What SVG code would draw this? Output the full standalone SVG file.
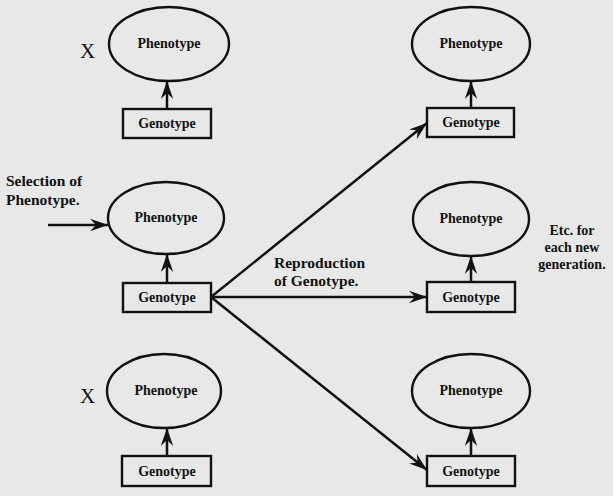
<svg xmlns="http://www.w3.org/2000/svg" width="613" height="496" viewBox="0 0 613 496">
<defs>
<marker id="ah" markerUnits="userSpaceOnUse" markerWidth="20" markerHeight="14" refX="18" refY="7" orient="auto">
<path d="M18,7 L0,0.8 L6,7 L0,13.2 Z" fill="#111"/>
</marker>
<style>
.bg{fill:#e8e8e8}
.ph{fill:none;stroke:#111;stroke-width:2.4}
.ge{fill:none;stroke:#111;stroke-width:2.4}
.t{font-family:"Liberation Serif","Times New Roman",serif;font-weight:bold;fill:#111}
.n{font-size:14px;text-anchor:middle}
.lb{font-size:15.5px}
.x{font-family:"Liberation Serif","Times New Roman",serif;font-size:21px;fill:#111}
.c{fill:none;stroke:#111;stroke-width:2.5;marker-end:url(#ah)}
</style>
</defs>
<rect class="bg" x="0" y="0" width="613" height="496"/>
<g id="connectors">
<line class="c" x1="167" y1="109" x2="167" y2="81"/>
<line class="c" x1="471" y1="108" x2="471" y2="81"/>
<line class="c" x1="167" y1="283" x2="167" y2="254"/>
<line class="c" x1="471" y1="282" x2="471" y2="256"/>
<line class="c" x1="167" y1="456" x2="167" y2="428"/>
<line class="c" x1="471" y1="456" x2="471" y2="428"/>
<line class="c" x1="48" y1="225" x2="108" y2="225"/>
<line class="c" x1="211" y1="297" x2="427" y2="123"/>
<line class="c" x1="211" y1="297" x2="427" y2="297"/>
<line class="c" x1="211" y1="297" x2="427" y2="470"/>
</g>
<g id="pheno1"><ellipse class="ph" cx="169" cy="44" rx="60" ry="37"/><text class="t n" x="169" y="48">Phenotype</text></g>
<g id="geno1"><rect class="ge" x="123" y="109" width="88" height="29"/><text class="t n" x="167" y="128">Genotype</text></g>
<g id="pheno2"><ellipse class="ph" cx="471" cy="44" rx="59" ry="37"/><text class="t n" x="471" y="48">Phenotype</text></g>
<g id="geno2"><rect class="ge" x="427" y="108" width="87" height="29"/><text class="t n" x="471" y="127">Genotype</text></g>
<g id="pheno3"><ellipse class="ph" cx="166" cy="218" rx="58" ry="36"/><text class="t n" x="166" y="222">Phenotype</text></g>
<g id="geno3"><rect class="ge" x="123" y="283" width="88" height="29"/><text class="t n" x="167" y="302">Genotype</text></g>
<g id="pheno4"><ellipse class="ph" cx="471" cy="219" rx="58" ry="37"/><text class="t n" x="471" y="223">Phenotype</text></g>
<g id="geno4"><rect class="ge" x="427" y="282" width="88" height="30"/><text class="t n" x="471" y="302">Genotype</text></g>
<g id="pheno5"><ellipse class="ph" cx="164" cy="391" rx="57" ry="37"/><text class="t n" x="166" y="395">Phenotype</text></g>
<g id="geno5"><rect class="ge" x="122" y="456" width="89" height="30"/><text class="t n" x="167" y="476">Genotype</text></g>
<g id="pheno6"><ellipse class="ph" cx="471" cy="391" rx="59" ry="37"/><text class="t n" x="471" y="395">Phenotype</text></g>
<g id="geno6"><rect class="ge" x="427" y="456" width="88" height="30"/><text class="t n" x="471" y="476">Genotype</text></g>
<g id="labels">
<text class="x" x="80" y="58">X</text>
<text class="x" x="80" y="403">X</text>
<text class="t lb" x="6" y="186">Selection of</text>
<text class="t lb" x="6" y="205">Phenotype.</text>
<text class="t lb" x="274" y="268">Reproduction</text>
<text class="t lb" x="274" y="286">of Genotype.</text>
<text class="t n" x="572" y="235">Etc. for</text>
<text class="t n" x="572" y="252">each new</text>
<text class="t n" x="572" y="269">generation.</text>
</g>
</svg>
